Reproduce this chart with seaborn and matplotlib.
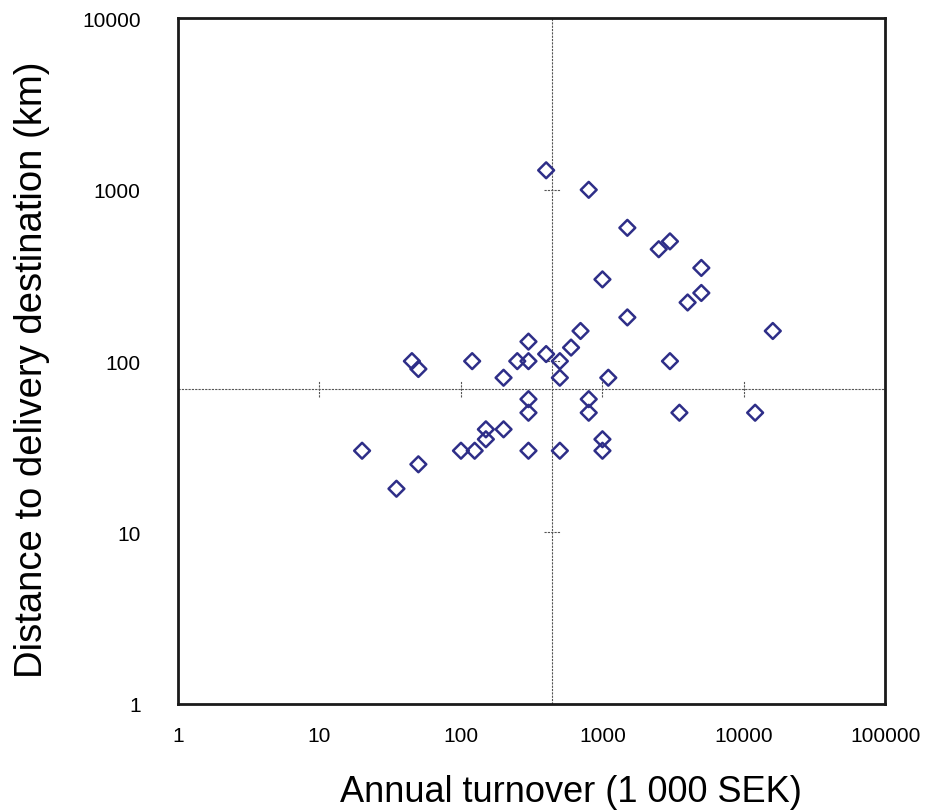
import seaborn as sns
import matplotlib.pyplot as plt
import pandas as pd

# values (annual turnover in 1 000 SEK, distance in km)
turnover = [400, 800, 1500, 2500, 3000, 5000, 1000, 5000, 4000, 1500,
            700, 16000, 300, 600, 400, 45, 50, 120, 250, 300,
            500, 3000, 200, 500, 1100, 300, 800, 300, 800, 3500,
            12000, 150, 200, 150, 1000, 20, 100, 125, 300, 1000,
            50, 35, 500]
distance = [1300, 1000, 600, 450, 500, 350, 300, 250, 220, 180,
            150, 150, 130, 120, 110, 100, 90, 100, 100, 100,
            100, 100, 80, 80, 80, 60, 60, 50, 50, 50,
            50, 40, 40, 35, 35, 30, 30, 30, 30, 30,
            25, 18, 30]

x_ticks = [1, 10, 100, 1000, 10000, 100000]
y_ticks = [1, 10, 100, 1000, 10000]
# where the two axes cross inside the plot
x_cross = 440
y_cross = 69

df = pd.DataFrame({'turnover': turnover, 'distance': distance})

sns.set_style('white')
plt.rcParams['font.family'] = ['Liberation Sans', 'DejaVu Sans']

fig = plt.figure(figsize=(9.32, 8.12), dpi=100)
ax = fig.add_axes([0.191, 0.132, 0.759, 0.844])

sns.scatterplot(x='turnover', y='distance', data=df, ax=ax, marker='D',
                s=65, facecolor='none', edgecolor='#2E2E88', linewidth=1.8,
                zorder=3)

ax.set_xscale('log')
ax.set_yscale('log')
ax.set_xlim(x_ticks[0], x_ticks[-1])
ax.set_ylim(y_ticks[0], y_ticks[-1])
ax.set_xticks(x_ticks)
ax.set_yticks(y_ticks)
ax.set_xticklabels([str(v) for v in x_ticks], fontsize=15)
ax.set_yticklabels([str(v) for v in y_ticks], fontsize=15)
ax.minorticks_off()
ax.tick_params(axis='x', length=0, pad=16, labelcolor='black')
ax.tick_params(axis='y', length=0, pad=27, labelcolor='black')

# crossing axes with their own small tick marks
ax.axhline(y_cross, color='#555555', lw=0.8, ls=(0, (2, 1)), zorder=1)
ax.axvline(x_cross, color='#555555', lw=0.8, ls=(0, (2, 1)), zorder=1)
for xv in x_ticks[1:-1]:
    ax.plot([xv, xv], [y_cross / 1.11, y_cross * 1.11], color='#555555',
            lw=0.8, ls=(0, (2, 1)), zorder=1)
for yv in y_ticks[1:-1]:
    ax.plot([x_cross / 1.14, x_cross * 1.14], [yv, yv], color='#555555',
            lw=0.8, ls=(0, (2, 1)), zorder=1)

for side in ax.spines.values():
    side.set_visible(True)
    side.set_color('#1A1A1A')
    side.set_linewidth(2)

ax.set_xlabel('Annual turnover (1 000 SEK)', fontsize=26, labelpad=21,
              color='black')
ax.set_ylabel('Distance to delivery destination (km)', fontsize=27.5,
              labelpad=23, color='black')
ax.xaxis.label.set_x(0.556)
ax.yaxis.label.set_y(0.489)

fig.savefig('out.png', dpi=100)
